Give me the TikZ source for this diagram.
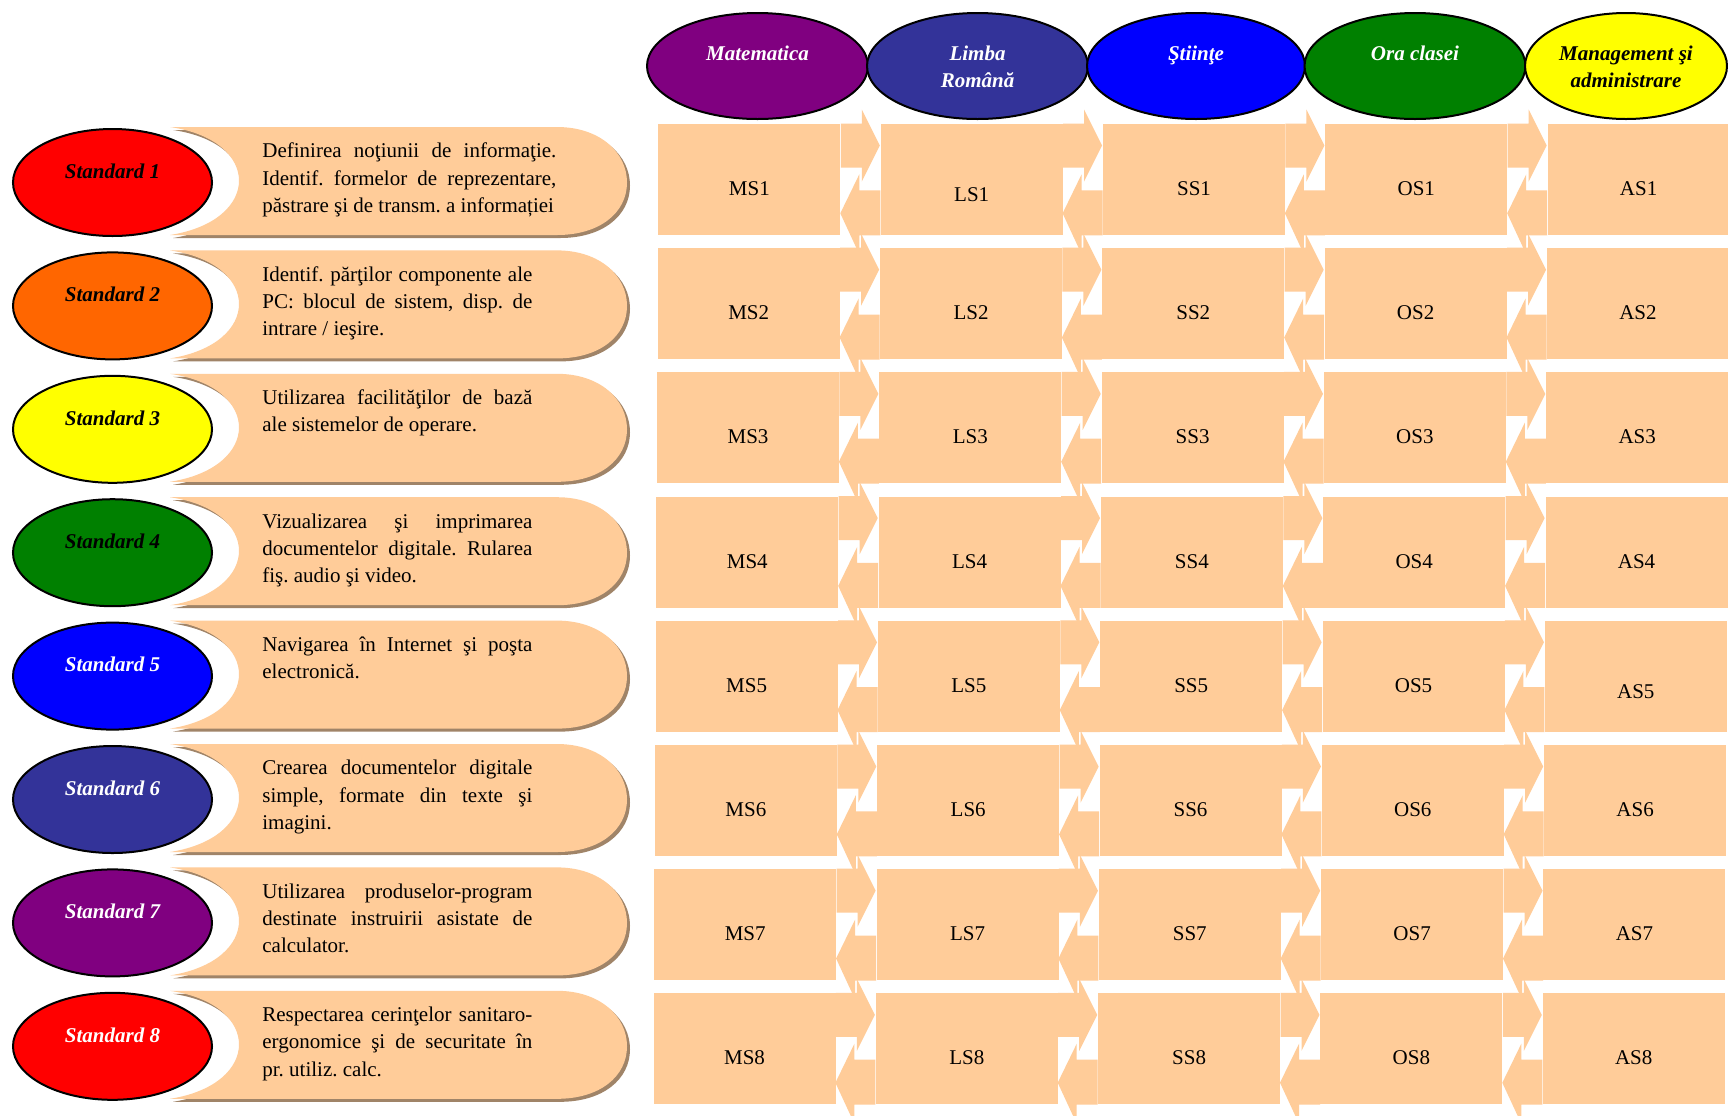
\documentclass[tikz,border=0pt]{standalone}
\usepackage{fontspec}
\setmainfont{Liberation Serif}
\usepackage{xcolor}
\definecolor{peach}{HTML}{FFCC99}
\definecolor{bannershadow}{HTML}{A08468}
\definecolor{stdred}{HTML}{FF0000}
\definecolor{stdorange}{HTML}{FF6600}
\definecolor{stdyellow}{HTML}{FFFF00}
\definecolor{stdgreen}{HTML}{008000}
\definecolor{stdblue}{HTML}{0000FF}
\definecolor{stdindigo}{HTML}{333399}
\definecolor{stdpurple}{HTML}{800080}
\usepackage{tikz}
\usetikzlibrary{shapes.geometric, calc}
\frenchspacing
\hyphenpenalty=10000
\exhyphenpenalty=10000
\newcommand\bannerpath[1]{(170,#1-55.5) -- (557,#1-55.5)
    .. controls (600,#1-55.5) and (627,#1-30) .. (627,#1)
    .. controls (627,#1+30) and (600,#1+52.5) .. (557,#1+52.5)
    -- (170,#1+52.5) .. controls (262,#1+38) and (262,#1-42) .. (170,#1-55.5) -- cycle}
\newcommand\topstrut{\rule{0pt}{12.5pt}}

\begin{document}
\begin{tikzpicture}[
    x=0.5pt, y=-0.5pt,
    oval/.style={ellipse, draw=black, line width=1pt, inner sep=0pt, align=center, font=\fontsize{10.5}{13.5}\selectfont\bfseries\itshape},
    stdoval/.style={oval, minimum width=99.5pt, minimum height=53.5pt},
    subjoval/.style={oval, minimum width=110.5pt, minimum height=53pt},
    ovaltext/.style={font=\fontsize{10.5}{13.5}\selectfont\bfseries\itshape, inner sep=0pt},
    banner/.style={fill=peach},
    bannertext/.style={anchor=north west, align=justify, inner sep=0pt, font=\fontsize{10.5}{13.6}\selectfont},
    cell/.style={rectangle, fill=peach, minimum width=91pt, minimum height=55.5pt, inner sep=0pt, anchor=north west},
    celltext/.style={font=\fontsize{10.5}{13}\selectfont, inner sep=0pt, anchor=base},
    link/.style={fill=peach}
]
\useasboundingbox (0,0) rectangle (1728,1115);
\fill[white] (0,0) rectangle (1728,1115);

% Grid - subject standards with two-way arrows
\foreach \row in {1,...,8}{
  \pgfmathsetmacro\rowtop{123.5+124.2*(\row-1)}
  \pgfmathsetmacro\rowx{658-0.7*(\row-1)}
  \foreach \subj [count=\col] in {M,L,S,O,A}{
    \node[cell] (c\row\col) at (\rowx+222.3*\col-222.3,\rowtop) {};
    \pgfmathsetmacro\lbly{((\row==1)&&(\col==2))||((\row==5)&&(\col==5)) ? 78 : 72}
    \node[celltext] (t\row\col) at ($(c\row\col.north)+(0,\lbly)$) {\subj S\row};
  }
  \foreach \col [evaluate=\col as \nxt using int(\col+1)] in {1,...,4}{
    \fill[link] (c\row\col.north east) -- ++(21,0) -- ++(0,-14) -- ++(18,36)
        -- ++(-18,36) -- ++(0,-14) -- ++(-21,0) -- cycle;
    \fill[link] (c\row\nxt.south west) -- ++(0,-45) -- ++(-21,0) -- ++(0,-16)
        -- ++(-19,39) -- ++(19,41) -- ++(0,-19) -- cycle;
  }
}

% Top row - subjects
\node[subjoval, fill=stdpurple, text=white] (mat) at (757.5,66) {\topstrut Matematica\\\strut};
\node[subjoval, fill=stdindigo, text=white] (lim) at (977.5,66) {\topstrut Limba\\Română\strut};
\node[subjoval, fill=stdblue, text=white, minimum width=109pt] (sti) at (1196,66) {\topstrut Ştiinţe\\\strut};
\node[subjoval, fill=stdgreen, text=white] (ora) at (1415,66) {\topstrut Ora clasei\\\strut};
\node[subjoval, fill=stdyellow, text=black, minimum width=101pt] (man) at (1626,66) {\topstrut Management şi\\administrare\strut};

% Left column - standards
\foreach \fillcol/\txtcol/\twidth/\desc [count=\row] in {
    stdred/black/147pt/{Definirea noţiunii de informaţie.\linebreak Identif. formelor de reprezentare,\linebreak păstrare şi de transm. a informației},
    stdorange/black/135pt/{Identif. părţilor componente ale\linebreak PC: blocul de sistem, disp. de\linebreak intrare / ieşire.},
    stdyellow/black/135pt/{Utilizarea facilităţilor de bază\linebreak ale sistemelor de operare.},
    stdgreen/black/135pt/{Vizualizarea şi imprimarea\linebreak documentelor digitale. Rularea\linebreak fiş. audio şi video.},
    stdblue/white/135pt/{Navigarea în Internet şi poşta\linebreak electronică.},
    stdindigo/white/135pt/{Crearea documentelor digitale\linebreak simple, formate din texte şi\linebreak imagini.},
    stdpurple/white/135pt/{Utilizarea produselor-program\linebreak destinate instruirii asistate de\linebreak calculator.},
    stdred/white/135pt/{Respectarea cerinţelor sanitaro-\linebreak ergonomice şi de securitate în\linebreak pr. utiliz. calc.}}{
  \pgfmathsetmacro\cy{182.5+123.4*(\row-1)}
  \fill[bannershadow, shift={(3,3)}] \bannerpath{\cy};
  \fill[banner] \bannerpath{\cy};
  \node[bannertext, text width=\twidth] (d\row) at (262,\cy-44) {\strut\desc};
  \node[stdoval, fill=\fillcol] (st\row) at (112.5,\cy) {};
  \node[ovaltext, text=\txtcol, anchor=base] (lbl\row) at (112.5,\cy-4.2) {Standard \row};
}

\end{tikzpicture}
\end{document}
